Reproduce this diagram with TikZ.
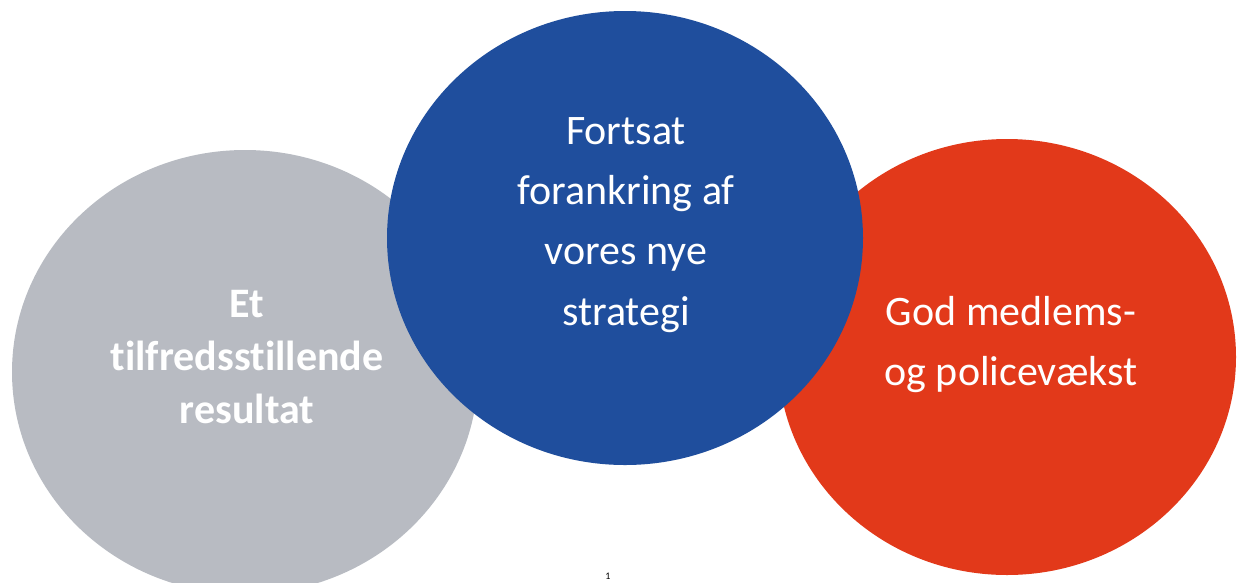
\documentclass[tikz,border=0pt]{standalone}
\usepackage{fontspec}
\setmainfont{Carlito}[Ligatures=NoCommon]
\usetikzlibrary{shapes.geometric}
\definecolor{cgray}{RGB}{184,187,194}
\definecolor{cblue}{RGB}{31,78,157}
\definecolor{cred}{RGB}{226,57,26}
\tikzset{
  blob/.style={ellipse, inner sep=0pt, outer sep=0pt, draw=none},
  txt/.style={anchor=base, text=white, inner sep=0pt, font=\fontsize{42}{50}\selectfont},
  txtb/.style={txt, font=\fontsize{42}{50}\selectfont\bfseries},
}
\begin{document}
\begin{tikzpicture}[x=1pt,y=-1pt]
\useasboundingbox (0,0) rectangle (1239,582);
\clip (0,0) rectangle (1239,582);
\fill[white] (0,0) rectangle (1239,582);
% circles: gray back, red, blue on top
\node[blob, fill=cgray, minimum width=466pt, minimum height=444pt] (gray) at (245,372) {};
\node[blob, fill=cred, minimum width=458pt, minimum height=436pt] (red) at (1007,357) {};
\node[blob, fill=cblue, minimum width=476pt, minimum height=454pt] (blue) at (625,238) {};
% gray text
\node[txtb] (g1) at (247,317) {Et};
\node[txtb] (g2) at (247,370) {tilfredsstillende};
\node[txtb] (g3) at (247,423) {resultat};
% blue text
\node[txt] (b1) at (626,144) {Fortsat};
\node[txt] (b2) at (626,204) {forankring af};
\node[txt] (b3) at (626,264) {vores nye};
\node[txt] (b4) at (626,325) {strategi};
% red text
\node[txt] (r1) at (1011,325) {God medlems-};
\node[txt] (r2) at (1011,385) {og policevækst};
% page number at the bottom edge
\node[anchor=south, inner sep=0pt, font=\fontsize{10}{12}\selectfont] (pg) at (608,580) {1};
\end{tikzpicture}
\end{document}
